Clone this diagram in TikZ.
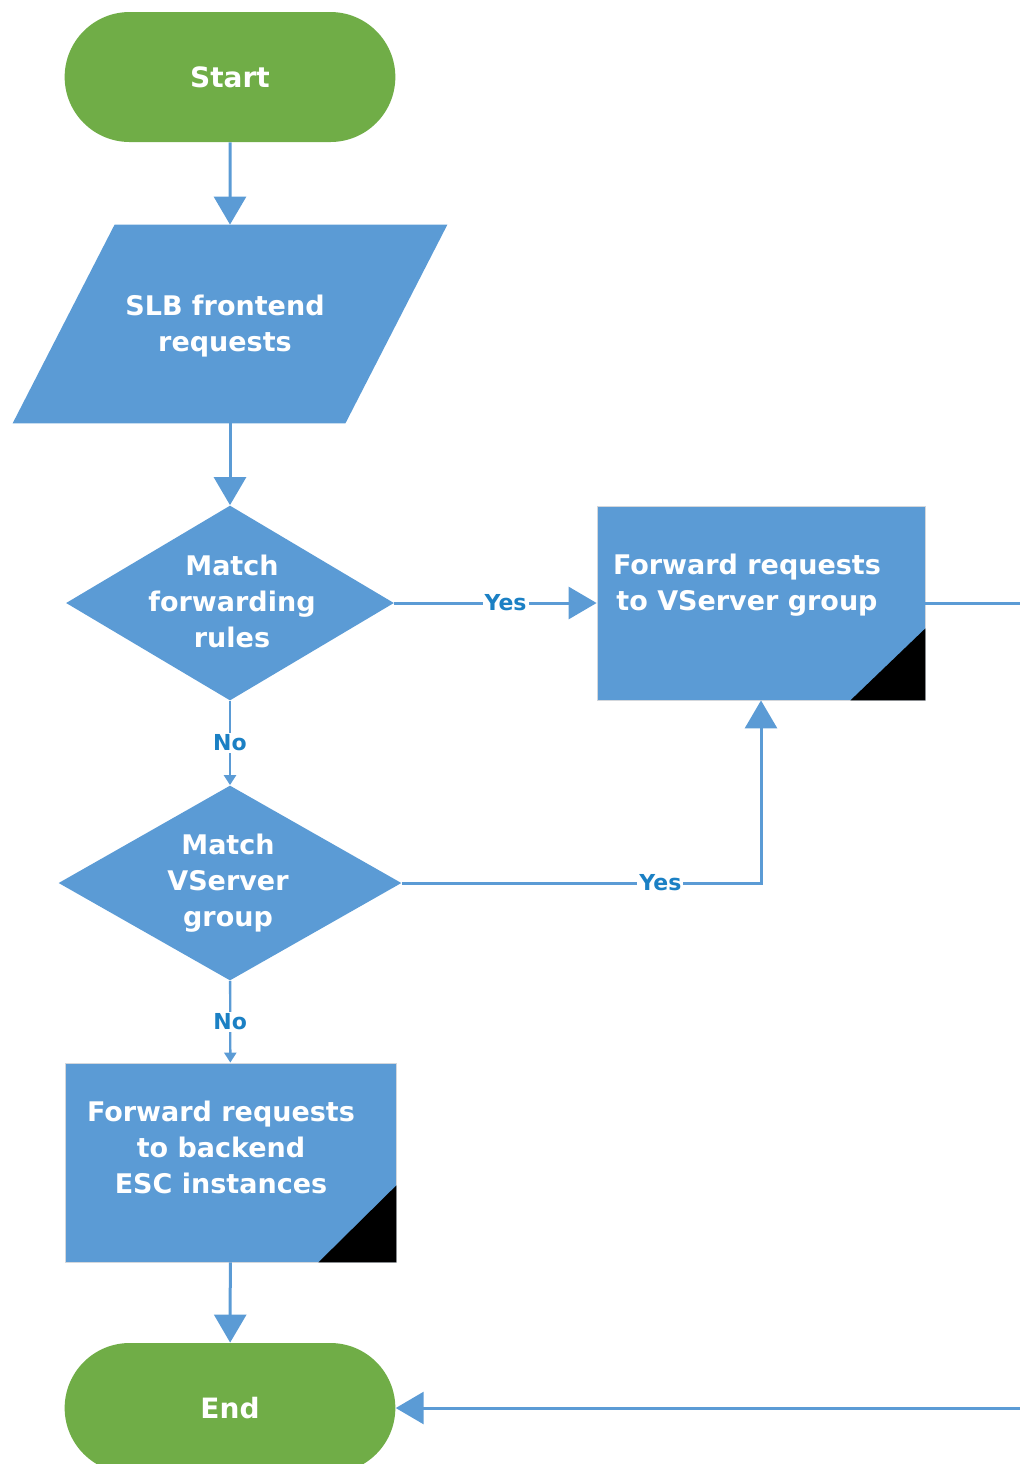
\documentclass[tikz,border=0pt]{standalone}
\usepackage{fontspec}
\setmainfont{DejaVu Sans}
\usetikzlibrary{arrows.meta,positioning,calc,shapes.geometric,shapes.misc}
\definecolor{lbgreen}{HTML}{70AD47}
\definecolor{lbblue} {HTML}{5B9BD5}
\definecolor{lbline} {HTML}{5B9BD5}
\definecolor{lbtagc} {HTML}{1B80C4}
\definecolor{lbrim}  {HTML}{D3D7DC}
\tikzset{
  lbshape/.style={fill=lbblue, inner sep=0pt},
  lbterm/.style={rounded rectangle, fill=lbgreen, minimum width=172pt, minimum height=65pt,
                 font=\fontsize{14}{18}\selectfont\bfseries, text=white},
  lbio/.style={rectangle, inner sep=0pt, minimum width=165pt, minimum height=99pt,
               align=center, text=white, font=\fontsize{13.5}{18}\selectfont\bfseries},
  lbdecide/.style={diamond, lbshape, minimum width=164pt, minimum height=97.5pt},
  lbstep/.style={rectangle, lbshape, draw=lbrim, thin, minimum width=164pt, minimum height=97pt},
  lbtext/.style={align=center, text=white, font=\fontsize{13.5}{18}\selectfont\bfseries},
  lbedge/.style={-{Triangle[length=14pt,width=16pt]}, draw=lbline, line width=1.5pt},
  lbnoedge/.style={-{Triangle[length=5pt,width=6pt]}, draw=lbline, line width=1.2pt},
  lbtag/.style={fill=white, inner sep=1pt, text=lbtagc, font=\fontsize{11}{13}\selectfont\bfseries},
}
\begin{document}
\begin{tikzpicture}[x=0.5pt,y=0.5pt]
  \useasboundingbox (0,0) rectangle (1020,-1464);
  \node[lbterm] (start) at (230,-77) {Start};
  \node[lbio] (slb) at (230,-324) {};
  % slanted input shape round the text
  \fill[lbblue] ($(slb.south west)+(-52,0)$) -- ($(slb.north west)+(50,0)$)
    -- ($(slb.north east)+(52,0)$) -- ($(slb.south east)+(-50,0)$) -- cycle;
  \node[lbtext] (slb-txt) at (225,-326) {SLB frontend\\requests};
  \node[lbdecide] (match-rules) at (230,-603) {};
  \node[lbtext] (match-rules-txt) at (232,-601) {Match\\forwarding\\rules};
  \node[lbstep] (fwd-vs) at (761,-603) {};
  \node[lbtext] (fwd-vs-txt) at (747,-585) {Forward requests\\to VServer group};
  \node[lbdecide, minimum width=171.5pt] (match-vs) at (230,-883) {};
  \node[lbtext] (match-vs-txt) at (228,-883) {Match\\VServer\\group};
  \node[lbstep, minimum width=165.5pt, minimum height=99.5pt] (fwd-be) at (230.5,-1162.5) {};
  \node[lbtext] (fwd-be-txt) at (221,-1147) {Forward requests\\to backend\\ESC instances};
  \node[lbterm] (end) at (230,-1408) {End};
  \coordinate (off-right) at (1040,-603);
  % folded corners
  \fill[black] (fwd-vs.south east) -- ++(-75,0) -- ++(75,72) -- cycle;
  \fill[black] (fwd-be.south east) -- ++(-78,0) -- ++(78,77) -- cycle;
  % flow
  \draw[lbedge] (start) -- (slb);
  \draw[lbedge] (slb) -- (match-rules);
  \draw[lbedge] (match-rules) -- node[lbtag, pos=0.55] (yes-rules) {Yes} (fwd-vs);
  \draw[lbnoedge] (match-rules) -- node[lbtag] (no-rules) {No} (match-vs);
  \draw[lbedge] (match-vs.east) -| node[lbtag, pos=0.36] (yes-vs) {Yes} (fwd-vs);
  \draw[lbnoedge] (match-vs) -- node[lbtag] (no-vs) {No} (fwd-be);
  \draw[lbedge] (fwd-be) -- (end);
  \draw[lbedge] (fwd-vs.east) -- (off-right) |- (end.east);
\end{tikzpicture}
\end{document}
